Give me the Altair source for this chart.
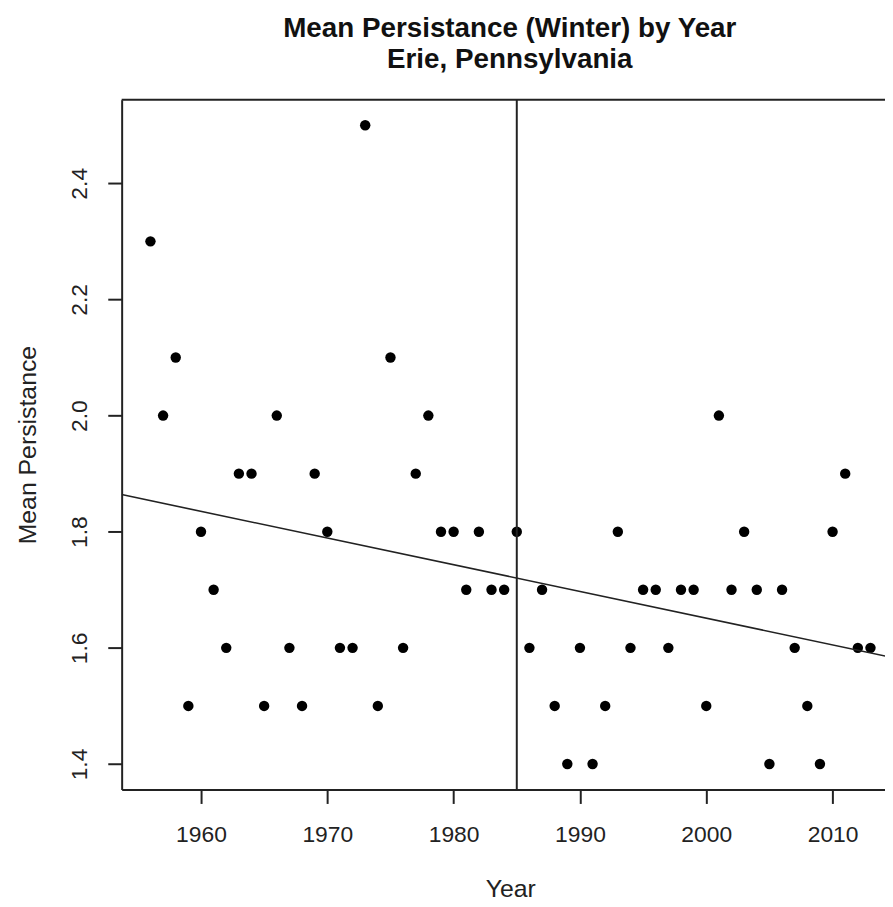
import altair as alt
import pandas as pd

# ---- data ----
years = list(range(1956, 2014))
persistence = [2.3, 2.0, 2.1, 1.5, 1.8, 1.7, 1.6, 1.9, 1.9, 1.5,
               2.0, 1.6, 1.5, 1.9, 1.8, 1.6, 1.6, 2.5, 1.5, 2.1,
               1.6, 1.9, 2.0, 1.8, 1.8, 1.7, 1.8, 1.7, 1.7, 1.8,
               1.6, 1.7, 1.5, 1.4, 1.6, 1.4, 1.5, 1.8, 1.6, 1.7,
               1.7, 1.6, 1.7, 1.7, 1.5, 2.0, 1.7, 1.8, 1.7, 1.4,
               1.7, 1.6, 1.5, 1.4, 1.8, 1.9, 1.6, 1.6]
x_ticks = [1960, 1970, 1980, 1990, 2000, 2010]
y_ticks = [1.4, 1.6, 1.8, 2.0, 2.2, 2.4]
break_years = [1985]
title_lines = ["Mean Persistance (Winter) by Year", "Erie, Pennsylvania"]
x_title = "Year"
y_title = "Mean Persistance"

df = pd.DataFrame({"Year": years, "MeanPersistance": persistence})
df_break = pd.DataFrame({"Year": break_years})
df_one = pd.DataFrame({"k": [0]})

# ---- layout ----
W, H = 769, 695
FONT = "Liberation Sans"
INK = "#222222"
x_lo, x_hi_full = 1953.72, 2015.28
x_hi_visible = 2014.15
x_scale = alt.Scale(domain=[x_lo, x_hi_visible], nice=False, zero=False)
y_scale = alt.Scale(domain=[1.356, 2.544], nice=False, zero=False)

x_axis = alt.Axis(values=x_ticks, format="d", title=x_title, grid=False,
                  labelFontSize=23, labelColor=INK, labelPadding=20,
                  labelFlush=False, labelOverlap=False,
                  tickSize=14, tickWidth=2, tickColor=INK,
                  domainColor=INK, domainWidth=2,
                  titleFontSize=25, titleFontWeight="normal", titleColor=INK,
                  titleX=391.5, titleY=108, titleBaseline="alphabetic",
                  titleAlign="center")
y_axis = alt.Axis(values=y_ticks, format=".1f", title=y_title, grid=False,
                  labelFontSize=23, labelColor=INK, labelPadding=16,
                  labelAngle=270, labelAlign="center", labelBaseline="bottom",
                  labelFlush=False, labelOverlap=False,
                  tickSize=14, tickWidth=2, tickColor=INK,
                  domainColor=INK, domainWidth=2,
                  titleFontSize=25, titleFontWeight="normal", titleColor=INK,
                  titleAngle=270, titleX=-87, titleY=H / 2,
                  titleBaseline="alphabetic", titleAlign="center")

points = alt.Chart(df).mark_circle(size=110, color="black", opacity=1).encode(
    x=alt.X("Year:Q", scale=x_scale, axis=x_axis),
    y=alt.Y("MeanPersistance:Q", scale=y_scale, axis=y_axis),
)

trend = alt.Chart(df).transform_regression(
    "Year", "MeanPersistance", extent=[x_lo, x_hi_full]
).mark_line(color=INK, strokeWidth=1.6, clip=True).encode(
    x=alt.X("Year:Q", scale=x_scale),
    y=alt.Y("MeanPersistance:Q", scale=y_scale),
)

vline = alt.Chart(df_break).mark_rule(color=INK, strokeWidth=2).encode(
    x=alt.X("Year:Q", scale=x_scale),
)

top_border = alt.Chart(df_one).mark_rule(color=INK, strokeWidth=2).encode(
    x=alt.value(0), x2=alt.value(W), y=alt.value(0)
)

chart = alt.layer(points, trend, vline, top_border).properties(
    width=W, height=H,
    title=alt.TitleParams(text=title_lines, fontSize=28, font=FONT,
                          fontWeight="bold", anchor="middle", frame="group",
                          dx=6.5, offset=25, lineHeight=31, color="#111111"),
    padding={"left": 114.5, "top": 89, "right": 0, "bottom": 118},
    autosize=alt.AutoSizeParams(type="none"),
).configure(font=FONT).configure_view(stroke=None)

chart.save("out.html", embed_options={"renderer": "svg", "actions": False})
